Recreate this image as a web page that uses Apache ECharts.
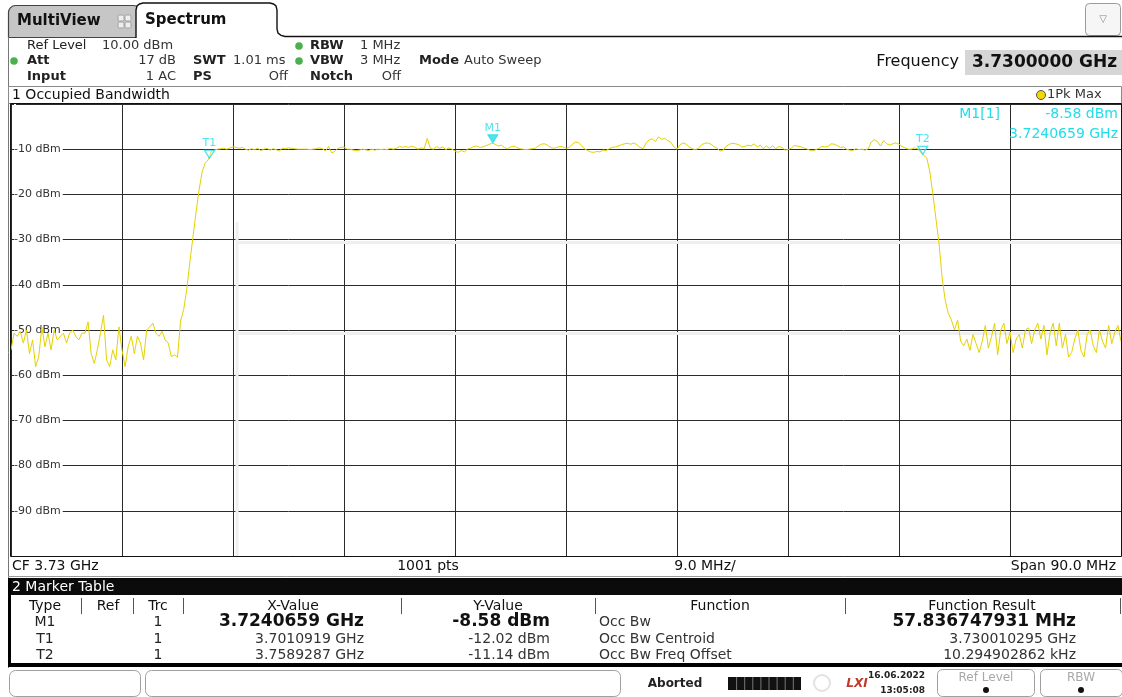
<!DOCTYPE html>
<html><head><meta charset="utf-8">
<script src="https://cdn.jsdelivr.net/npm/echarts@6/dist/echarts.min.js"></script>
<style>html,body{margin:0;padding:0;background:#fff}#chart{width:1122px;height:697px}</style>
</head><body><div id="chart"></div>
<script>
// ---------- sweep definition ----------
const sweepStartGHz = 3.685;
const sweepStopGHz = 3.775;
const sweepStepGHz = 0.00025;
const divisionMHz = 9;
const levelTopDbm = 0;
const levelBottomDbm = -100;
const levelDivDb = 10;

// ---------- trace levels (dBm) ----------
const noiseLowDbm = [
 -54.4,-50.7,-51.4,-50.3,-52.9,-50,-55.2,-52.2,-58.1,-55.9,
 -49.3,-53.7,-50.7,-54.4,-50,-52.2,-51.4,-50.7,-52.9,-50.7,
 -50,-51.4,-52.2,-50.7,-50.7,-48.2,-55.2,-57.4,-54.4,-50.7,
 -46.7,-56.6,-58.1,-54.4,-56.6,-49.3,-54.4,-58.1,-53.7,-51.4,
 -55.2,-51.4,-52.9,-56.6,-50,-49.3,-48.5,-50.7,-51.4,-50.3,
 -52.2,-52.9,-55.9];
const riseDbm = [-55.5,-56,-48,-45.5,-41,-35,-29.5,-24,-19,-15,-13,-12.3];
const bandDbm = [
 -10.4,-10.2,-10.0,-9.9,-9.8,-10.0,-9.7,-9.5,-9.6,-9.8,
 -9.6,-10.0,-10.2,-9.9,-10.1,-9.8,-10.3,-10.0,-9.8,-10.2,
 -9.9,-10.1,-10.4,-9.8,-9.9,-9.7,-9.8,-9.9,-10.0,-10.0,
 -10.0,-10.0,-10.1,-10.0,-9.9,-9.7,-9.9,-10.4,-9.4,-10.8,
 -10.5,-9.8,-9.6,-9.5,-10.0,-10.0,-10.2,-10.3,-10.2,-10.0,
 -10.1,-10.3,-10.0,-10.2,-10.0,-10.1,-10.0,-10.1,-9.8,-10.0,
 -9.8,-9.4,-9.6,-9.4,-9.6,-9.3,-9.6,-10.0,-9.7,-9.9,
 -7.6,-9.8,-10.0,-9.4,-9.8,-9.5,-10.1,-9.7,-10.0,-10.4,
 -10.7,-10.3,-10.6,-10.0,-9.8,-9.4,-9.3,-9.6,-9.5,-9.2,
 -9.0,-8.6,-8.9,-9.3,-9.1,-9.6,-9.9,-9.5,-9.3,-9.6,
 -9.9,-10.0,-10.1,-10.0,-9.9,-9.8,-9.3,-8.9,-8.8,-9.1,
 -9.6,-9.8,-9.6,-9.4,-9.5,-9.8,-9.6,-9.0,-8.4,-8.5,
 -9.2,-9.9,-10.3,-10.6,-10.7,-10.5,-10.6,-10.2,-10.3,-9.9,
 -9.6,-9.5,-9.3,-9.0,-8.8,-8.7,-8.9,-8.6,-9.0,-9.6,
 -9.9,-8.6,-7.9,-7.7,-8.3,-7.3,-7.8,-7.6,-8.1,-8.5,
 -9.5,-10.0,-9.0,-8.6,-8.9,-9.5,-9.9,-10.1,-9.8,-9.0,
 -8.7,-8.6,-8.9,-9.4,-9.8,-10.4,-10.2,-9.3,-8.9,-8.7,
 -8.8,-9.0,-9.5,-9.4,-9.1,-9.3,-8.8,-9.5,-9.1,-9.9,
 -9.3,-9.8,-9.2,-9.9,-9.4,-9.6,-10.2,-10.1,-9.8,-9.2,
 -9.3,-9.4,-9.7,-9.9,-10.2,-10.4,-10.1,-9.8,-9.4,-9.5,
 -9.4,-8.8,-8.9,-9.2,-9.6,-9.5,-10.0,-10.2,-10.3,-9.9,
 -10.1,-10.0,-10.2,-9.9,-8.4,-7.9,-8.3,-9.3,-8.1,-8.8,
 -9.1,-8.8,-8.6,-8.9,-9.4,-9.7,-10.0,-10.0,-9.7,-9.9,
 -10.6,-11.4];
const fallDbm = [-11.9,-15,-20,-25.5,-31,-38.5,-43.5,-46.3,-47.8,-50,-47.8,-52.5];
const noiseHighDbm = [
 -53.5,-52,-54.5,-51,-53,-55,-52.5,-49,-54,-51.5,
 -48.5,-55.5,-50,-48.5,-53,-50.5,-55,-52,-51,-54,
 -50,-49.5,-53,-50,-48.5,-52,-49,-55.5,-50.5,-48.5,
 -53.5,-48.5,-54,-51,-56,-55,-52,-50,-54.5,-56,
 -51,-50,-53.5,-55,-50,-52.5,-54,-49,-53,-50.5,
 -49,-52.5];

// ---------- markers ----------
const markerNames = ['M1', 'T1', 'T2'];
const markerFreqGHz = [3.7240659, 3.7010919, 3.7589287];
const markerLevelDbm = [-8.58, -12.02, -11.14];

// ---------- marker table ----------
const tableColumns = ['Type', 'Ref', 'Trc', 'X-Value', 'Y-Value', 'Function', 'Function Result'];
const tableTrc = ['1', '1', '1'];
const tableFunction = ['Occ Bw', 'Occ Bw Centroid', 'Occ Bw Freq Offset'];
const tableResult = ['57.836747931 MHz', '3.730010295 GHz', '10.294902862 kHz'];

// ---------- build ----------
const traceDbm = noiseLowDbm.concat(riseDbm, bandDbm, fallDbm, noiseHighDbm);
const toOffsetMHz = f => (f - sweepStartGHz) * 1000;
const traceData = traceDbm.map((v, i) => [toOffsetMHz(sweepStartGHz + i * sweepStepGHz), v]);
const spanMHz = toOffsetMHz(sweepStopGHz);

const CYAN = '#22dcea';
const YELLOW = '#e4d200';
const FF = '"DejaVu Sans", Verdana, sans-serif';
const G = [];
function txt(x, y, s, font, fill, align, z) {
  G.push({type: 'text', z: z || 10, silent: true,
    style: {x: x, y: y, text: s, font: font + ' ' + FF, fill: fill || '#1a1a1a',
      textAlign: align || 'left', align: align || 'left', textVerticalAlign: 'middle', verticalAlign: 'middle'}});
}
function rect(x, y, w, h, o) {
  G.push({type: 'rect', z: o.z || 5, silent: true, shape: {x: x, y: y, width: w, height: h, r: o.r || 0},
    style: {fill: o.fill || 'none', stroke: o.stroke || null, lineWidth: o.lw || 1}});
}
function ln(x1, y1, x2, y2, stroke, lw, z) {
  G.push({type: 'line', z: z || 6, silent: true, shape: {x1: x1, y1: y1, x2: x2, y2: y2}, style: {stroke: stroke, lineWidth: lw || 1}});
}
function dot(cx, cy, r, fill, stroke) {
  G.push({type: 'circle', z: 10, silent: true, shape: {cx: cx, cy: cy, r: r}, style: {fill: fill, stroke: stroke || null, lineWidth: 1}});
}

// tabs
rect(8.5, 5.5, 132, 32, {r: [7, 7, 0, 0], fill: '#c6c6c6', stroke: '#444', lw: 1.2, z: 4});
txt(17, 21, 'MultiView', 'bold 15px', '#111');
[[118, 15], [125, 15], [118, 22], [125, 22]].forEach(p => rect(p[0], p[1], 6, 6, {r: 1.5, fill: '#eeeeee', stroke: '#a0a0a0', z: 6}));
const tabPts = [[136,38],[136,10],[137,6],[139.5,4],[143,3],[270,3],[273.5,4],[276,6],[277,10],[277,29],[278,33],[281,35.3],[285,36.5],[1122,36.5]];
G.push({type: 'polygon', z: 5, silent: true, shape: {points: tabPts.concat([[1122,38]])}, style: {fill: '#fff', stroke: null}});
G.push({type: 'polyline', z: 6, silent: true, shape: {points: tabPts}, style: {fill: null, stroke: '#111', lineWidth: 1.4}});
txt(145, 20, 'Spectrum', 'bold 15px', '#111');
rect(1085.5, 3.5, 35, 32, {r: 4, fill: '#f6f6f6', stroke: '#9a9a9a'});
txt(1103, 19, '\u25BD', '10px', '#888', 'center');

// left panel border
ln(8.5, 37, 8.5, 668, '#777', 1, 4);

// header settings
const GREEN = '#4cb050';
const dotR = 3.8;
txt(27, 46, 'Ref Level', '13px', '#222');
txt(102, 46, '10.00 dBm', '13px', '#333');
dot(299, 46, dotR, GREEN);
txt(310, 46, 'RBW', 'bold 13px', '#222');
txt(360, 46, '1 MHz', '13px', '#333');
dot(14, 61, dotR, GREEN);
txt(27, 61, 'Att', 'bold 13px', '#222');
txt(176, 61, '17 dB', '13px', '#333', 'right');
txt(193, 61, 'SWT', 'bold 13px', '#222');
txt(233, 61, '1.01 ms', '13px', '#333');
dot(299, 61, dotR, GREEN);
txt(310, 61, 'VBW', 'bold 13px', '#222');
txt(360, 61, '3 MHz', '13px', '#333');
txt(419, 61, 'Mode', 'bold 13px', '#222');
txt(464, 61, 'Auto Sweep', '13px', '#333');
txt(27, 77, 'Input', 'bold 13px', '#222');
txt(176, 77, '1 AC', '13px', '#333', 'right');
txt(193, 77, 'PS', 'bold 13px', '#222');
txt(288, 77, 'Off', '13px', '#333', 'right');
txt(310, 77, 'Notch', 'bold 13px', '#222');
txt(401, 77, 'Off', '13px', '#333', 'right');

txt(959, 62, 'Frequency', '16px', '#111', 'right');
rect(965, 50, 157, 25, {fill: '#d6d6d6'});
txt(972, 63, ((sweepStartGHz + sweepStopGHz) / 2).toFixed(7) + ' GHz', 'bold 17px', '#111');

// window title bar
rect(8.5, 86.5, 1113, 17, {fill: '#fff', stroke: '#8a8a8a', z: 4});
txt(12, 95, '1 Occupied Bandwidth', '14px', '#111');
dot(1041, 95, 4.5, '#f2d800', '#555');
txt(1047, 95, '1Pk Max', '13px', '#333');

// faint ghost lines in the screenshot
ln(237, 222, 237, 556, '#efefef', 3, 1);
ln(236, 242.5, 1121, 242.5, '#efefef', 3, 1);
ln(236, 333.5, 1121, 333.5, '#efefef', 3, 1);

// plot frame
rect(10.5, 103.5, 1111, 453, {stroke: '#111', z: 8});

// marker readout
txt(1000, 114, markerNames[0] + '[1]', '14px', CYAN, 'right');
txt(1118, 114, markerLevelDbm[0].toFixed(2) + ' dBm', '14px', CYAN, 'right');
txt(1118, 134, markerFreqGHz[0].toFixed(7) + ' GHz', '14px', CYAN, 'right');

// bottom info bar
txt(12, 566, 'CF 3.73 GHz', '14px', '#111');
txt(428, 566, '1001 pts', '14px', '#111', 'center');
txt(705, 566, (divisionMHz).toFixed(1) + ' MHz/', '14px', '#111', 'center');
txt(1116, 566, 'Span ' + spanMHz.toFixed(1) + ' MHz', '14px', '#111', 'right');
ln(8, 576.5, 1122, 576.5, '#999', 1, 4);

// marker table
rect(8, 578, 1114, 17, {fill: '#0b0b0b'});
txt(12, 587, '2 Marker Table', '14px', '#fff');
rect(8, 578, 3, 89, {fill: '#000', z: 7});
rect(8, 663, 1114, 4, {fill: '#000', z: 7});
[81, 133, 183, 401, 595, 845, 1120].forEach(x => ln(x + 0.5, 598, x + 0.5, 614, '#555', 1, 6));
const colCenters = [45, 108, 158, 293, 498, 720, 982];
tableColumns.forEach((c, i) => txt(colCenters[i], 606, c, '14px', '#111', 'center'));
const rowY = [622, 639, 655];
markerNames.forEach((m, r) => {
  const bold = r === 0;
  txt(45, rowY[r], m, '14px', '#222', 'center');
  txt(158, rowY[r], tableTrc[r], '14px', '#222', 'center');
  txt(364, rowY[r], markerFreqGHz[r].toFixed(7) + ' GHz', bold ? 'bold 17px' : '14px', bold ? '#111' : '#333', 'right');
  txt(550, rowY[r], markerLevelDbm[r].toFixed(2) + ' dBm', bold ? 'bold 17px' : '14px', bold ? '#111' : '#333', 'right');
  txt(599, rowY[r], tableFunction[r], '14px', '#333');
  txt(1076, rowY[r], tableResult[r], bold ? 'bold 17px' : '14px', bold ? '#111' : '#333', 'right');
});

// status bar
rect(9.5, 670.5, 131, 26, {r: 6, fill: '#fff', stroke: '#a0a0a0'});
rect(145.5, 670.5, 475, 26, {r: 6, fill: '#fff', stroke: '#a0a0a0'});
txt(675, 684, 'Aborted', 'bold 12px', '#222', 'center');
rect(728, 677, 73, 13, {fill: '#111'});
for (let k = 1; k < 9; k++) ln(728.5 + k * 8.1, 677, 728.5 + k * 8.1, 690, '#777', 1, 7);
G.push({type: 'circle', z: 6, silent: true, shape: {cx: 822, cy: 683, r: 8}, style: {fill: 'none', stroke: '#e2e2e2', lineWidth: 2}});
txt(857, 684, 'LXI', 'italic bold 12px', '#c0392b', 'center');
txt(925, 676, '16.06.2022', 'bold 9px', '#222', 'right');
txt(925, 691, '13:05:08', 'bold 9px', '#222', 'right');
rect(937.5, 669.5, 97, 27, {r: 5, fill: '#fff', stroke: '#a0a0a0'});
txt(986, 678, 'Ref Level', '12px', '#a8a8a8', 'center');
dot(986, 690, 3, '#111');
rect(1040.5, 669.5, 82, 27, {r: 5, fill: '#fff', stroke: '#a0a0a0'});
txt(1081, 678, 'RBW', '12px', '#a8a8a8', 'center');
dot(1081, 690, 3, '#111');

const markerData = markerNames.map((n, i) => ({
  name: n,
  value: [toOffsetMHz(markerFreqGHz[i]), markerLevelDbm[i]],
  itemStyle: n.charAt(0) === 'M'
    ? {color: CYAN, borderColor: CYAN, borderWidth: 1}
    : {color: 'rgba(255,255,255,0.35)', borderColor: CYAN, borderWidth: 1.2}
}));

const chart = echarts.init(document.getElementById('chart'), null, {renderer: 'canvas'});
chart.setOption({
  animation: false,
  backgroundColor: '#fff',
  textStyle: {fontFamily: FF},
  grid: {left: 11, top: 104, width: 1110, height: 452, containLabel: false},
  xAxis: {
    type: 'value', min: 0, max: spanMHz, interval: divisionMHz,
    axisLabel: {show: false}, axisLine: {show: false}, axisTick: {show: false},
    splitLine: {show: true, lineStyle: {color: '#2b2b2b', width: 1}}
  },
  yAxis: {
    type: 'value', min: levelBottomDbm, max: levelTopDbm, interval: levelDivDb,
    axisLine: {show: false}, axisTick: {show: false},
    splitLine: {show: true, lineStyle: {color: '#2b2b2b', width: 1}},
    axisLabel: {
      inside: true, margin: 3, color: '#333', fontSize: 11, fontFamily: FF,
      backgroundColor: '#fff', padding: [1, 2, 1, 0],
      formatter: v => (v === levelTopDbm || v === levelBottomDbm) ? '' : v + ' dBm'
    }
  },
  series: [
    {
      type: 'line', data: traceData, showSymbol: false, symbol: 'none', silent: true, z: 3,
      lineStyle: {color: YELLOW, width: 1}, itemStyle: {color: YELLOW}
    },
    {
      type: 'scatter', data: markerData, z: 5, silent: true,
      symbol: 'triangle', symbolRotate: 180, symbolSize: [10, 8], symbolOffset: [0, -4],
      label: {show: true, position: 'top', distance: 1, formatter: p => p.name, color: CYAN, fontSize: 11, fontFamily: FF}
    }
  ],
  graphic: {elements: G}
});
</script>
</body></html>
